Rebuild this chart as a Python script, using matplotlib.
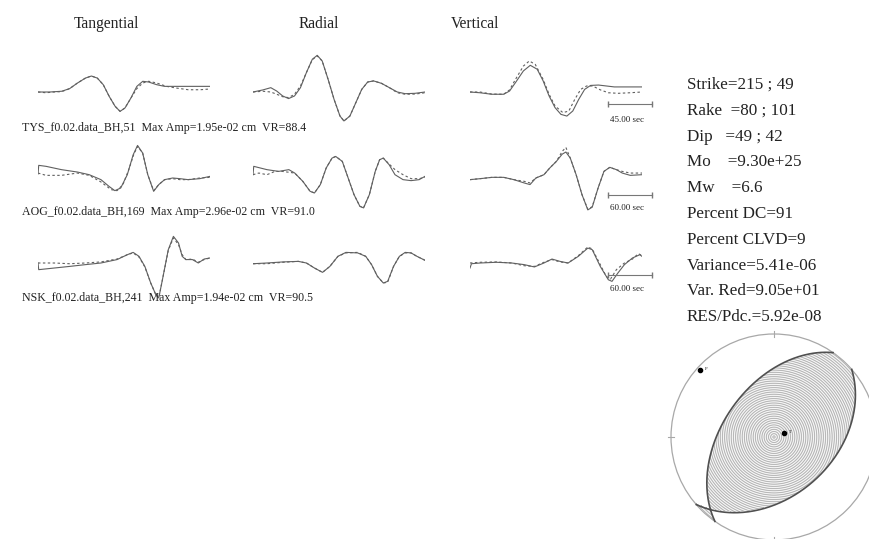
import numpy as np
import matplotlib
matplotlib.use("Agg")
import matplotlib.pyplot as plt
from matplotlib.patches import Circle

plt.rcParams["font.family"] = ["Liberation Serif", "DejaVu Serif"]

W, H = 869, 539

# station / inversion summary
components = ["Tangential", "Radial", "Vertical"]
stations = ["TYS_f0.02.data_BH,51", "AOG_f0.02.data_BH,169", "NSK_f0.02.data_BH,241"]
max_amp = [1.95e-02, 2.96e-02, 1.94e-02]
var_red = [88.4, 91.0, 90.5]
scale_sec = [45.00, 60.00, 60.00]
window_sec = [174, 235, 235]

# waveforms: time (s) and displacement (1e-2 cm); obs = data, syn = synthetic
tys_tan_t = [0, 12, 24, 32, 40, 48, 54, 60, 66, 72, 78, 83, 88, 94, 100, 106, 112, 120, 128, 140, 152, 164, 174]
tys_tan_obs = [0, 0, 0.04, 0.18, 0.48, 0.74, 0.85, 0.74, 0.39, -0.23, -0.76, -1.03, -0.85, -0.32, 0.30, 0.57, 0.53, 0.39, 0.30, 0.30, 0.30, 0.30, 0.30]
tys_tan_syn_t = [0, 8, 16, 24, 32, 40, 48, 54, 60, 66, 72, 78, 83, 88, 94, 100, 106, 112, 120, 130, 140, 152, 164, 174]
tys_tan_syn = [0, -0.04, 0, 0.02, 0.18, 0.48, 0.74, 0.85, 0.74, 0.39, -0.23, -0.76, -1.03, -0.85, -0.32, 0.18, 0.48, 0.57, 0.48, 0.30, 0.21, 0.12, 0.12, 0.16]

tys_rad_t = [0, 10, 18, 24, 30, 36, 42, 48, 54, 60, 65, 70, 76, 82, 88, 92, 98, 104, 110, 116, 122, 130, 138, 146, 154, 164, 174]
tys_rad_obs = [0, 0.11, 0.23, 0.05, -0.21, -0.35, -0.21, 0.23, 1.03, 1.74, 1.95, 1.65, 0.67, -0.39, -1.28, -1.54, -1.28, -0.57, 0.14, 0.53, 0.59, 0.46, 0.23, 0, -0.09, -0.07, 0]
tys_rad_syn = [0, 0.04, 0, -0.12, -0.25, -0.30, -0.12, 0.32, 1.03, 1.72, 1.92, 1.65, 0.67, -0.39, -1.28, -1.54, -1.28, -0.57, 0.14, 0.53, 0.59, 0.46, 0.23, -0.04, -0.12, -0.11, -0.04]

tys_ver_t = [0, 10, 22, 34, 40, 46, 54, 61, 68, 74, 80, 86, 92, 98, 104, 110, 116, 122, 130, 138, 146, 158, 174]
tys_ver_obs = [0, -0.04, -0.12, -0.12, 0.05, 0.50, 1.12, 1.42, 1.21, 0.59, -0.21, -0.83, -1.19, -1.28, -1.01, -0.39, 0.14, 0.35, 0.37, 0.32, 0.27, 0.27, 0.27]
tys_ver_syn_t = [0, 10, 22, 34, 40, 46, 54, 60, 66, 74, 80, 86, 94, 100, 106, 112, 118, 124, 132, 140, 150, 162, 174]
tys_ver_syn = [0, 0, -0.11, -0.12, 0.11, 0.67, 1.38, 1.65, 1.47, 0.67, -0.12, -0.74, -1.10, -1.01, -0.39, 0.14, 0.32, 0.32, 0.11, -0.04, -0.07, -0.04, 0]

aog_tan_t = [0, 1, 11, 32, 54, 70, 86, 97, 105, 113, 122, 130, 136, 143, 150, 158, 165, 173, 184, 194, 205, 221, 235]
aog_tan_obs = [0.36, 1.15, 1.06, 0.76, 0.54, 0.30, -0.15, -0.76, -1.15, -0.91, 0.30, 2.11, 2.96, 2.27, 0.30, -1.21, -0.60, -0.15, 0, -0.06, -0.15, -0.06, 0.15]
aog_tan_syn_t = [0, 11, 32, 54, 70, 86, 100, 108, 116, 124, 131, 136, 143, 150, 158, 165, 173, 184, 194, 205, 221, 235]
aog_tan_syn = [0.45, 0.24, 0.24, 0.45, 0.24, -0.36, -1.06, -1.15, -0.60, 0.76, 2.17, 2.87, 2.27, 0.30, -1.15, -0.60, -0.15, -0.06, -0.15, -0.15, 0, 0.06]

aog_rad_t = [0, 1, 19, 35, 49, 57, 68, 78, 84, 92, 100, 108, 113, 122, 130, 138, 146, 151, 159, 167, 173, 178, 186, 194, 205, 216, 227, 235]
aog_rad_obs = [0.30, 1.06, 0.76, 0.60, 0.76, 0.45, -0.30, -1.21, -1.36, -0.60, 0.91, 1.81, 1.96, 1.51, 0, -1.51, -2.57, -2.72, -1.51, 0.60, 1.66, 1.81, 1.21, 0.30, -0.15, -0.24, -0.15, 0.15]
aog_rad_syn_t = [0, 8, 19, 30, 40, 57, 68, 78, 84, 92, 100, 108, 113, 122, 130, 138, 146, 151, 159, 167, 173, 178, 186, 194, 205, 216, 227, 235]
aog_rad_syn = [0.30, 0.45, 0.30, 0.60, 0.60, 0.45, -0.30, -1.21, -1.36, -0.60, 0.91, 1.81, 1.96, 1.51, 0, -1.51, -2.57, -2.72, -1.51, 0.60, 1.66, 1.81, 1.27, 0.76, 0.30, -0.06, -0.06, 0.06]

aog_ver_t = [0, 14, 30, 46, 60, 74, 82, 90, 101, 109, 118, 126, 131, 137, 145, 153, 161, 167, 175, 183, 191, 200, 208, 219, 235]
aog_ver_obs = [-0.15, -0.06, 0.06, 0.06, -0.15, -0.45, -0.60, 0, 0.30, 0.91, 1.51, 2.17, 2.36, 1.81, 0.30, -1.51, -2.90, -2.65, -0.91, 0.60, 0.97, 0.76, 0.45, 0.24, 0.30]
aog_ver_syn = [-0.15, -0.06, 0.06, 0.06, -0.15, -0.30, -0.45, 0, 0.30, 0.91, 1.51, 2.42, 2.78, 1.81, 0.30, -1.51, -2.85, -2.60, -0.91, 0.60, 0.97, 0.76, 0.60, 0.45, 0.45]

nsk_tan_t = [0, 1, 22, 43, 65, 86, 108, 122, 130, 138, 146, 154, 161, 165, 170, 178, 185, 192, 197, 202, 211, 219, 227, 235]
nsk_tan_obs = [0, -0.37, -0.28, -0.19, -0.09, 0, 0.19, 0.46, 0.59, 0.37, -0.19, -1.11, -1.76, -1.94, -0.93, 0.74, 1.48, 1.11, 0.37, 0.19, 0.19, 0, 0.22, 0.28]
nsk_tan_syn_t = [0, 22, 43, 65, 86, 108, 122, 130, 138, 146, 154, 161, 165, 170, 178, 185, 192, 197, 202, 211, 219, 227, 235]
nsk_tan_syn = [0, 0, -0.04, 0, 0.06, 0.22, 0.46, 0.56, 0.33, -0.22, -1.11, -1.76, -1.94, -0.93, 0.70, 1.39, 1.02, 0.46, 0.19, 0.22, 0.04, 0.19, 0.28]

nsk_rad_t = [0, 19, 41, 62, 73, 84, 95, 105, 116, 127, 143, 154, 162, 170, 178, 184, 192, 200, 208, 216, 224, 235]
nsk_rad_obs = [-0.04, 0, 0.06, 0.09, 0, -0.28, -0.52, -0.19, 0.37, 0.59, 0.56, 0.37, -0.09, -0.74, -1.11, -1.02, -0.19, 0.37, 0.59, 0.56, 0.37, 0.15]
nsk_rad_syn = [-0.04, -0.04, 0.04, 0.09, 0, -0.28, -0.52, -0.19, 0.37, 0.56, 0.59, 0.37, -0.09, -0.74, -1.11, -1.07, -0.19, 0.37, 0.56, 0.56, 0.37, 0.15]

nsk_ver_t = [0, 2, 14, 36, 57, 74, 88, 101, 112, 123, 134, 148, 161, 167, 178, 189, 194, 202, 211, 222, 232, 235]
nsk_ver_obs = [-0.28, -0.04, 0, 0.04, 0, -0.09, -0.22, 0, 0.22, 0.09, 0, 0.37, 0.83, 0.74, -0.19, -0.93, -1.02, -0.56, -0.09, 0.28, 0.46, 0.37]
nsk_ver_syn_t = [0, 14, 36, 57, 74, 88, 101, 112, 123, 134, 148, 161, 167, 178, 186, 192, 200, 211, 222, 230, 235]
nsk_ver_syn = [0, 0.04, 0.06, 0, -0.15, -0.19, 0.04, 0.19, 0.06, 0, 0.41, 0.89, 0.78, -0.09, -0.74, -0.89, -0.37, 0, 0.22, 0.52, 0.41]

traces = [
    [(tys_tan_t, tys_tan_obs, tys_tan_syn_t, tys_tan_syn),
     (tys_rad_t, tys_rad_obs, tys_rad_t, tys_rad_syn),
     (tys_ver_t, tys_ver_obs, tys_ver_syn_t, tys_ver_syn)],
    [(aog_tan_t, aog_tan_obs, aog_tan_syn_t, aog_tan_syn),
     (aog_rad_t, aog_rad_obs, aog_rad_syn_t, aog_rad_syn),
     (aog_ver_t, aog_ver_obs, aog_ver_t, aog_ver_syn)],
    [(nsk_tan_t, nsk_tan_obs, nsk_tan_syn_t, nsk_tan_syn),
     (nsk_rad_t, nsk_rad_obs, nsk_rad_t, nsk_rad_syn),
     (nsk_ver_t, nsk_ver_obs, nsk_ver_syn_t, nsk_ver_syn)],
]

# focal mechanism
strike = [215, 49]
rake = [80, 101]
dip = [49, 42]
info_lines = [
    "Strike=215 ; 49",
    "Rake  =80 ; 101",
    "Dip   =49 ; 42",
    "Mo    =9.30e+25",
    "Mw    =6.6",
    "Percent DC=91",
    "Percent CLVD=9",
    "Variance=5.41e-06",
    "Var. Red=9.05e+01",
    "RES/Pdc.=5.92e-08",
]

TXT = "#222222"
WAVE = "#606060"


def px_rect(left, top, width, height):
    return [left / W, 1 - (top + height) / H, width / W, height / H]


def fig_xy(x, y):
    return x / W, 1 - y / H


fig = plt.figure(figsize=(W / 100, H / 100), dpi=100)

# layout of the trace panels (pixels)
col_left = [38, 253, 470]
col_title_x = [106, 319, 475]
trace_w = 172
row_base = [92, 178, 263]
row_ppu = [18.8, 11.0, 18.0]      # pixels per 1e-2 cm
label_y = [128, 212, 298]
bar_drop = [12, 17, 12]
bar_label_y = [120, 208, 289]
half = 3.5

for c, name in enumerate(components):
    fig.text(*fig_xy(col_title_x[c], 24), name, ha="center", va="center",
             fontsize=11.2, color=TXT)

for r in range(3):
    for c in range(3):
        t_obs, obs, t_syn, syn = traces[r][c]
        h = 2 * half * row_ppu[r]
        ax = fig.add_axes(px_rect(col_left[c], row_base[r] - h / 2, trace_w, h))
        ax.set_xlim(0, window_sec[r])
        ax.set_ylim(-half, half)
        ax.axis("off")
        ax.plot(t_obs, obs, color=WAVE, lw=0.8, solid_joinstyle="round")
        ax.plot(t_syn, syn, color=WAVE, lw=0.8, linestyle=(0, (2.2, 2.2)))

        if c == 2:
            # time scale bar under the vertical trace
            t0 = window_sec[r] * 138 / 172
            yb = -bar_drop[r] / row_ppu[r]
            ax.plot([t0, t0 + scale_sec[r]], [yb, yb], color="#777777", lw=0.8,
                    clip_on=False)
            ax.plot([t0, t0 + scale_sec[r]], [yb, yb], linestyle="none",
                    marker="|", markersize=5, color="#777777", clip_on=False)
            fig.text(*fig_xy(627, bar_label_y[r]), f"{scale_sec[r]:.2f} sec",
                     ha="center", va="center", fontsize=6.5, color=TXT)

    fig.text(*fig_xy(22, label_y[r]),
             f"{stations[r]}  Max Amp={max_amp[r]:.2e} cm  VR={var_red[r]:.1f}",
             ha="left", va="center", fontsize=8.6, color=TXT)

for i, line in enumerate(info_lines):
    fig.text(*fig_xy(687, 85 + i * 25.8), line, ha="left", va="center",
             fontsize=12.3, color=TXT)

# ---- beach ball (lower hemisphere, equal area) ----
cx, cy, rad = 774, 437, 103
side = 2 * rad * 1.05
bb = fig.add_axes(px_rect(cx - side / 2, cy - side / 2, side, side))
bb.set_xlim(-1.05, 1.05)
bb.set_ylim(-1.05, 1.05)
bb.set_aspect("equal")
bb.axis("off")

phi, delta, lam = np.radians([strike[0], dip[0], rake[0]])
normal = np.array([-np.sin(delta) * np.sin(phi), np.sin(delta) * np.cos(phi), -np.cos(delta)])
slip = np.array([np.cos(lam) * np.cos(phi) + np.sin(lam) * np.cos(delta) * np.sin(phi),
                 np.cos(lam) * np.sin(phi) - np.sin(lam) * np.cos(delta) * np.cos(phi),
                 -np.sin(lam) * np.sin(delta)])

n_px = 2 * rad
g = np.linspace(-1, 1, n_px)
X, Y = np.meshgrid(g, g)
rho = np.hypot(X, Y)
inside = rho <= 1
inc = 2 * np.arcsin(np.clip(rho / np.sqrt(2), 0, 1))
trend = np.arctan2(X, Y)
ray = np.stack([np.sin(inc) * np.cos(trend), np.sin(inc) * np.sin(trend), np.cos(inc)])
amp = np.tensordot(normal, ray, 1) * np.tensordot(slip, ray, 1)

# compressional quadrant filled with concentric rings
rings = 0.5 + 0.5 * np.cos(2 * np.pi * rho / 0.0214)
shade = np.where(inside & (amp > 0), 0.72 + 0.24 * rings, np.nan)
cmap = plt.get_cmap("gray").copy()
cmap.set_bad(alpha=0)
im = bb.imshow(shade, extent=[-1, 1, -1, 1], origin="lower", cmap=cmap,
               vmin=0, vmax=1, interpolation="nearest")
outline = Circle((0, 0), 1, fill=False, edgecolor="#a8a8a8", lw=0.9)
bb.add_patch(outline)
im.set_clip_path(outline)

# nodal planes
for s, d in zip(strike, dip):
    ps, pd = np.radians([s, d])
    t = np.linspace(0, np.pi, 181)
    sv = np.array([np.cos(ps), np.sin(ps), 0.0])
    dv = np.array([np.cos(pd) * np.cos(ps + np.pi / 2), np.cos(pd) * np.sin(ps + np.pi / 2), np.sin(pd)])
    v = np.outer(np.cos(t), sv) + np.outer(np.sin(t), dv)
    i_ang = np.arccos(np.clip(v[:, 2], -1, 1))
    tr = np.arctan2(v[:, 1], v[:, 0])
    rr = np.sqrt(2) * np.sin(i_ang / 2)
    bb.plot(rr * np.sin(tr), rr * np.cos(tr), color="#505050", lw=1.2)

# P and T axes
for vec, lab in [(normal + slip, "T"), (normal - slip, "P")]:
    vec = vec / np.linalg.norm(vec)
    if vec[2] < 0:
        vec = -vec
    i_ang = np.arccos(vec[2])
    tr = np.arctan2(vec[1], vec[0])
    rr = np.sqrt(2) * np.sin(i_ang / 2)
    bb.plot(rr * np.sin(tr), rr * np.cos(tr), "o", color="black", markersize=3)
    bb.text(rr * np.sin(tr) + 0.05, rr * np.cos(tr) + 0.01, lab, fontsize=3.5,
            color=TXT, va="center")

# cardinal ticks on the rim
for az in np.radians([0, 90, 180, 270]):
    bb.plot([0.97 * np.sin(az), 1.03 * np.sin(az)], [0.97 * np.cos(az), 1.03 * np.cos(az)],
            color="#a8a8a8", lw=0.8)

fig.savefig("out.png", dpi=100)
